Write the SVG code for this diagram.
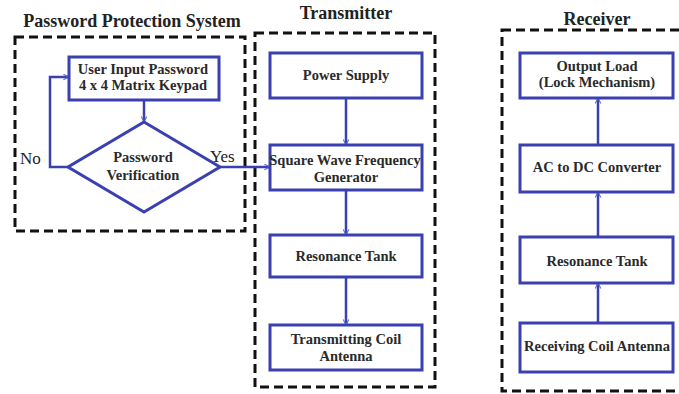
<svg xmlns="http://www.w3.org/2000/svg" width="679" height="394" viewBox="0 0 679 394" font-family="'Liberation Serif', 'Times New Roman', 'DejaVu Serif', serif">
  <defs>
    <marker id="arr" viewBox="0 0 10 10" refX="9" refY="5" markerWidth="7" markerHeight="7" markerUnits="userSpaceOnUse" orient="auto">
      <path d="M1,1 L9,5 L1,9" fill="none" stroke="#5a6fd0" stroke-width="1.6"/>
    </marker>
    <style>
      .frame { fill: none; stroke: #111; stroke-width: 3; stroke-dasharray: 9 5; }
      .box { fill: #fff; stroke: #3a3fb2; stroke-width: 3; }
      .link { fill: none; stroke: #3a3fb2; stroke-width: 2.5; marker-end: url(#arr); }
      .title { font-weight: bold; font-size: 18px; fill: #222; text-anchor: middle; }
      .lbl { font-weight: bold; font-size: 14.5px; fill: #2a2a2a; text-anchor: middle; }
      .yn { font-size: 17px; fill: #222; }
    </style>
  </defs>
  <rect width="679" height="394" fill="#fff"/>

  <!-- section frames and titles -->
  <g id="section-password">
    <rect class="frame" x="15" y="37" width="230" height="194"/>
    <text class="title" x="132" y="27">Password Protection System</text>
  </g>
  <g id="section-transmitter">
    <rect class="frame" x="255" y="33" width="180" height="354"/>
    <text class="title" x="346" y="19">Transmitter</text>
  </g>
  <g id="section-receiver">
    <rect class="frame" x="502" y="30" width="200" height="361"/>
    <text class="title" x="597" y="25">Receiver</text>
  </g>

  <!-- connectors -->
  <g id="connectors">
    <path class="link" d="M144,100 L144,122"/>
    <path class="link" d="M69,167 L50,167 L50,77 L69,77"/>
    <path class="link" d="M220,167 L270,167"/>
    <path class="link" d="M346,98 L346,145"/>
    <path class="link" d="M346,190 L346,235"/>
    <path class="link" d="M346,277 L346,325"/>
    <path class="link" d="M598,323 L598,283"/>
    <path class="link" d="M598,237 L598,192"/>
    <path class="link" d="M598,145 L598,98"/>
    <text class="yn" x="20" y="164">No</text>
    <text class="yn" x="210" y="162">Yes</text>
  </g>

  <!-- password protection nodes -->
  <g id="user-input">
    <rect class="box" x="69" y="57" width="150" height="43"/>
    <text class="lbl" x="143" y="74">User Input Password</text>
    <text class="lbl" x="143" y="90">4 x 4 Matrix Keypad</text>
  </g>
  <g id="verification">
    <polygon class="box" points="144,122 220,167 144,212 68,167"/>
    <text class="lbl" x="143" y="162">Password</text>
    <text class="lbl" x="143" y="180">Verification</text>
  </g>

  <!-- transmitter nodes -->
  <g id="power-supply">
    <rect class="box" x="270" y="53" width="152" height="45"/>
    <text class="lbl" x="346" y="80">Power Supply</text>
  </g>
  <g id="square-wave">
    <rect class="box" x="270" y="145" width="152" height="45"/>
    <text class="lbl" x="345" y="165">Square Wave Frequency</text>
    <text class="lbl" x="346" y="182">Generator</text>
  </g>
  <g id="tx-resonance">
    <rect class="box" x="270" y="235" width="152" height="42"/>
    <text class="lbl" x="346" y="261">Resonance Tank</text>
  </g>
  <g id="tx-coil">
    <rect class="box" x="270" y="325" width="152" height="45"/>
    <text class="lbl" x="346" y="344">Transmitting Coil</text>
    <text class="lbl" x="346" y="361">Antenna</text>
  </g>

  <!-- receiver nodes -->
  <g id="output-load">
    <rect class="box" x="520" y="53" width="153" height="45"/>
    <text class="lbl" x="597" y="71">Output Load</text>
    <text class="lbl" x="597" y="87">(Lock Mechanism)</text>
  </g>
  <g id="ac-dc">
    <rect class="box" x="520" y="145" width="153" height="47"/>
    <text class="lbl" x="597" y="172">AC to DC Converter</text>
  </g>
  <g id="rx-resonance">
    <rect class="box" x="520" y="237" width="153" height="46"/>
    <text class="lbl" x="597" y="266">Resonance Tank</text>
  </g>
  <g id="rx-coil">
    <rect class="box" x="520" y="323" width="153" height="49"/>
    <text class="lbl" x="597" y="351">Receiving Coil Antenna</text>
  </g>
</svg>
